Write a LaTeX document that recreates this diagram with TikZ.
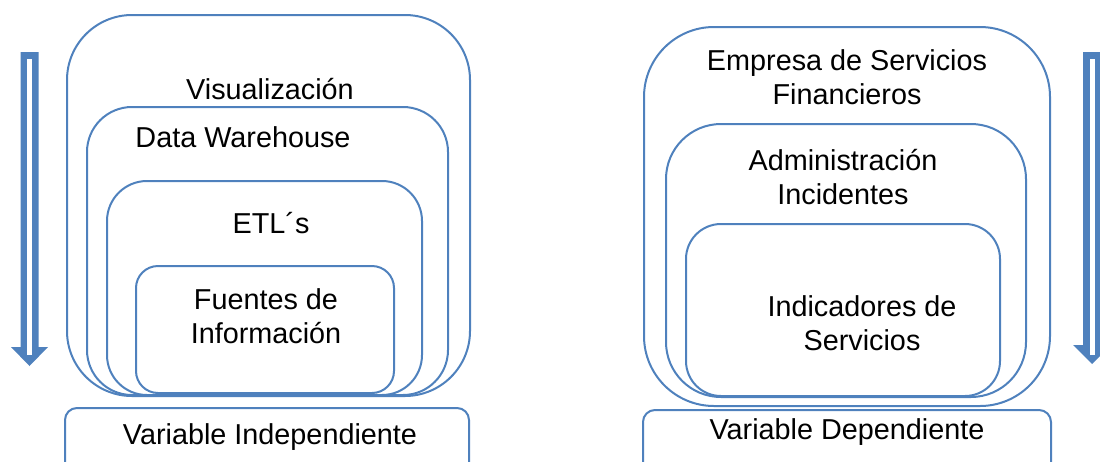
\documentclass[tikz,border=0pt]{standalone}
\usepackage{fontspec}
\setmainfont{Liberation Sans}
\definecolor{frameblue}{RGB}{79,129,189}
\tikzset{
  x=1pt, y=-1pt,
  layer/.style={draw=frameblue, line width=2pt, anchor=north west, inner sep=0pt, outer sep=0pt},
  label/.style={align=center, inner sep=0pt, font=\fontsize{28.8}{33.5}\selectfont},
}
\begin{document}
\begin{tikzpicture}
\useasboundingbox (0,0) rectangle (1100,461);
\clip (0,0) rectangle (1100,461);

% left stack of layers
\node[layer, rounded corners=65pt, minimum width=403pt, minimum height=381pt] (vis) at (67,15) {};
\node[layer, rounded corners=45pt, minimum width=361pt, minimum height=288pt] (dw) at (87,107) {};
\node[layer, rounded corners=40pt, minimum width=315pt, minimum height=214pt] (etl) at (107,181) {};
\node[layer, rounded corners=22pt, minimum width=258pt, minimum height=127pt] (fue) at (136,266) {};
\node[layer, rounded corners=12pt, minimum width=404pt, minimum height=80pt] (vind) at (65,408) {};

\node[label] (tvis) at (270,89) {Visualización};
\node[label] (tdw) at (243,137) {Data Warehouse};
\node[label] (tetl) at (271,223) {ETL´s};
\node[label] (tfue) at (266,316) {Fuentes de\\Información};
\node[label] (tvind) at (270,437) {Variable Independiente};

% right stack of layers
\node[layer, rounded corners=70pt, minimum width=406pt, minimum height=379pt] (emp) at (644,27) {};
\node[layer, rounded corners=55pt, minimum width=360pt, minimum height=273pt] (adm) at (666,124) {};
\node[layer, rounded corners=35pt, minimum width=314pt, minimum height=172pt] (ind) at (686,224) {};
\node[layer, rounded corners=12pt, minimum width=408pt, minimum height=80pt] (vdep) at (643,410) {};

\node[label] (temp) at (847,77) {Empresa de Servicios\\Financieros};
\node[label] (tadm) at (843,177) {Administración\\Incidentes};
\node[label] (tind) at (862,323) {Indicadores de\\Servicios};
\node[label] (tvdep) at (847,432) {Variable Dependiente};

% downward arrows
\fill[frameblue] (20.5,52) -- (38.5,52) -- (38.5,347) -- (48,347) -- (29.5,366)
  -- (11,347) -- (20.5,347) -- cycle;
\fill[white] (27,59) rectangle (32,355);

\fill[frameblue] (1083,52) -- (1101,52) -- (1101,345) -- (1111,345) -- (1092,364)
  -- (1073,345) -- (1083,345) -- cycle;
\fill[white] (1089.5,59) rectangle (1094.5,355);
\end{tikzpicture}
\end{document}
